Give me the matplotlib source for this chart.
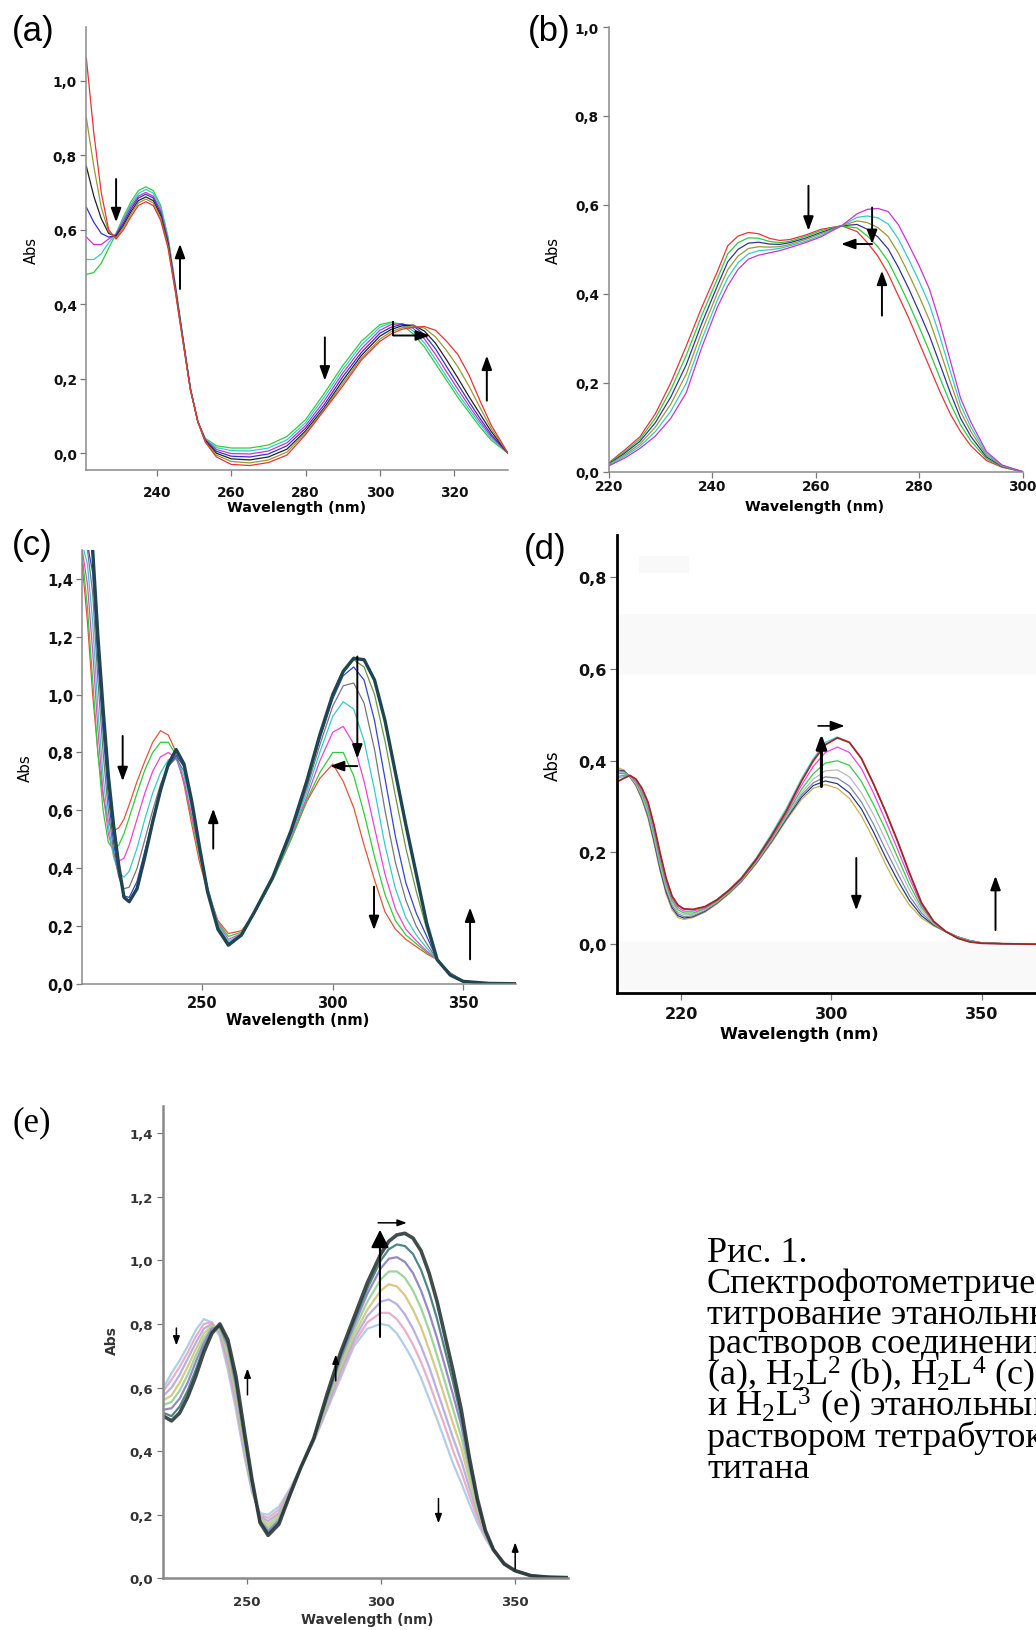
import matplotlib
matplotlib.use('Agg')
import matplotlib.pyplot as plt
from matplotlib.patches import Rectangle

plt.rcParams['font.family'] = 'DejaVu Sans'
plt.rcParams['mathtext.fontset'] = 'custom'
plt.rcParams['mathtext.rm'] = 'Liberation Serif'
plt.rcParams['mathtext.it'] = 'Liberation Serif:italic'

# ---- data (wavelength in nm, absorbance) ----
wl_a = [221, 223, 225, 227, 229, 231, 233, 235, 237, 239, 241, 243, 245, 247, 249, 251, 253, 256, 260,
        265, 270, 275, 280, 285, 290, 295, 300, 303, 306, 309, 312, 315, 318, 321, 324, 327, 330, 334.5]
abs_a = [
    [0.48, 0.485, 0.51, 0.55, 0.59, 0.635, 0.675, 0.705, 0.715, 0.705, 0.665, 0.58, 0.45, 0.31, 0.175, 0.085,
     0.04, 0.02, 0.014, 0.014, 0.022, 0.045, 0.09, 0.16, 0.235, 0.30, 0.345, 0.352, 0.345, 0.32, 0.285, 0.24,
     0.195, 0.15, 0.11, 0.07, 0.035, 0.0],
    [0.52, 0.52, 0.535, 0.565, 0.59, 0.63, 0.668, 0.697, 0.708, 0.698, 0.66, 0.575, 0.447, 0.31, 0.175, 0.085,
     0.038, 0.015, 0.007, 0.006, 0.014, 0.036, 0.082, 0.15, 0.225, 0.29, 0.338, 0.35, 0.347, 0.328, 0.296,
     0.252, 0.205, 0.16, 0.118, 0.078, 0.04, 0.0],
    [0.58, 0.56, 0.56, 0.575, 0.588, 0.625, 0.662, 0.69, 0.70, 0.69, 0.652, 0.57, 0.443, 0.307, 0.173, 0.085,
     0.037, 0.01, -0.001, -0.002, 0.006, 0.028, 0.074, 0.14, 0.215, 0.28, 0.33, 0.345, 0.348, 0.335, 0.307,
     0.265, 0.218, 0.172, 0.127, 0.085, 0.045, 0.0],
    [0.66, 0.62, 0.59, 0.58, 0.585, 0.618, 0.655, 0.685, 0.695, 0.685, 0.645, 0.565, 0.44, 0.305, 0.172, 0.085,
     0.035, 0.005, -0.008, -0.01, -0.002, 0.02, 0.067, 0.13, 0.205, 0.27, 0.322, 0.338, 0.346, 0.342, 0.318,
     0.28, 0.232, 0.185, 0.138, 0.093, 0.05, 0.0],
    [0.77, 0.69, 0.63, 0.59, 0.582, 0.612, 0.648, 0.678, 0.688, 0.678, 0.638, 0.56, 0.437, 0.303, 0.172, 0.085,
     0.033, 0.0, -0.015, -0.018, -0.01, 0.011, 0.06, 0.122, 0.195, 0.262, 0.314, 0.332, 0.342, 0.344, 0.328,
     0.295, 0.25, 0.202, 0.152, 0.105, 0.058, 0.0],
    [0.90, 0.77, 0.66, 0.595, 0.578, 0.606, 0.642, 0.672, 0.682, 0.672, 0.632, 0.555, 0.433, 0.30, 0.171, 0.085,
     0.031, -0.005, -0.022, -0.026, -0.018, 0.003, 0.055, 0.118, 0.187, 0.255, 0.306, 0.326, 0.337, 0.342,
     0.336, 0.312, 0.275, 0.232, 0.18, 0.122, 0.066, 0.0],
    [1.06, 0.86, 0.70, 0.60, 0.575, 0.60, 0.635, 0.665, 0.675, 0.665, 0.625, 0.55, 0.43, 0.30, 0.17, 0.085,
     0.03, -0.01, -0.03, -0.033, -0.025, -0.005, 0.05, 0.115, 0.18, 0.25, 0.30, 0.32, 0.333, 0.338, 0.340,
     0.33, 0.30, 0.265, 0.21, 0.14, 0.075, 0.0],
]
colors_a = ['#2ecc40', '#33cccc', '#cc33cc', '#3333cc', '#222222', '#999933', '#e8333a']

wl_b = [220, 223, 226, 229, 232, 235, 238, 241, 243, 245, 247, 249, 251, 253, 255, 258, 261, 265, 268, 270,
        272, 274, 276, 278, 280, 282, 284, 286, 288, 290, 293, 296, 300]
abs_b = [
    [0.02, 0.048, 0.078, 0.13, 0.20, 0.283, 0.37, 0.45, 0.508, 0.53, 0.538, 0.535, 0.525, 0.52, 0.522, 0.532,
     0.545, 0.553, 0.54, 0.515, 0.485, 0.445, 0.395, 0.345, 0.29, 0.235, 0.18, 0.13, 0.09, 0.058, 0.025, 0.01, 0.0],
    [0.019, 0.044, 0.073, 0.12, 0.184, 0.262, 0.352, 0.434, 0.49, 0.515, 0.526, 0.525, 0.518, 0.515, 0.518, 0.529,
     0.542, 0.553, 0.548, 0.53, 0.506, 0.473, 0.427, 0.378, 0.325, 0.27, 0.211, 0.154, 0.105, 0.069, 0.029, 0.011, 0.0],
    [0.017, 0.041, 0.068, 0.11, 0.168, 0.241, 0.334, 0.418, 0.472, 0.50, 0.514, 0.516, 0.512, 0.511, 0.515, 0.525,
     0.538, 0.553, 0.556, 0.545, 0.528, 0.501, 0.459, 0.411, 0.359, 0.305, 0.242, 0.178, 0.12, 0.079, 0.033, 0.012, 0.0],
    [0.016, 0.037, 0.062, 0.10, 0.152, 0.22, 0.316, 0.402, 0.454, 0.485, 0.502, 0.506, 0.505, 0.506, 0.511, 0.522,
     0.535, 0.553, 0.564, 0.56, 0.549, 0.529, 0.491, 0.444, 0.394, 0.34, 0.273, 0.202, 0.135, 0.09, 0.037, 0.013, 0.0],
    [0.014, 0.034, 0.057, 0.09, 0.136, 0.199, 0.298, 0.386, 0.436, 0.47, 0.49, 0.497, 0.499, 0.502, 0.508, 0.518,
     0.531, 0.553, 0.572, 0.575, 0.571, 0.557, 0.523, 0.477, 0.428, 0.375, 0.304, 0.226, 0.15, 0.10, 0.041, 0.014, 0.0],
    [0.013, 0.03, 0.052, 0.08, 0.12, 0.178, 0.28, 0.37, 0.418, 0.455, 0.478, 0.487, 0.492, 0.497, 0.504, 0.515,
     0.528, 0.553, 0.58, 0.59, 0.592, 0.585, 0.555, 0.51, 0.463, 0.41, 0.335, 0.25, 0.165, 0.111, 0.045, 0.015, 0.0],
]
colors_b = ['#e8333a', '#2ecc40', '#333399', '#999933', '#33cccc', '#cc33cc']

wl_c = [204, 206, 208, 210, 212, 214, 216, 218, 220, 222, 225, 228, 231, 234, 237, 240, 243, 246, 249, 252,
        256, 260, 265, 270, 277, 284, 290, 295, 300, 304, 308, 312, 316, 320, 324, 328, 332, 336, 340, 345,
        350, 360, 370]
abs_c = [
    [1.45, 1.25, 1.00, 0.80, 0.65, 0.56, 0.53, 0.54, 0.57, 0.62, 0.70, 0.77, 0.835, 0.875, 0.86, 0.80, 0.69, 0.55,
     0.42, 0.32, 0.22, 0.175, 0.185, 0.245, 0.36, 0.50, 0.63, 0.71, 0.76, 0.70, 0.61, 0.48, 0.36, 0.25, 0.19,
     0.155, 0.13, 0.105, 0.085, 0.04, 0.012, 0.003, 0.002],
    [1.48, 1.30, 1.05, 0.80, 0.60, 0.49, 0.465, 0.48, 0.52, 0.575, 0.66, 0.74, 0.80, 0.835, 0.835, 0.79, 0.70, 0.57,
     0.44, 0.33, 0.215, 0.165, 0.18, 0.245, 0.36, 0.50, 0.635, 0.73, 0.80, 0.80, 0.72, 0.59, 0.44, 0.31, 0.22,
     0.17, 0.14, 0.11, 0.085, 0.038, 0.011, 0.003, 0.002],
    [1.50, 1.38, 1.15, 0.88, 0.66, 0.52, 0.45, 0.425, 0.435, 0.48, 0.57, 0.66, 0.735, 0.785, 0.80, 0.78, 0.70, 0.58,
     0.45, 0.335, 0.21, 0.155, 0.175, 0.245, 0.365, 0.51, 0.645, 0.77, 0.87, 0.89, 0.83, 0.70, 0.54, 0.38, 0.26,
     0.19, 0.15, 0.115, 0.085, 0.037, 0.011, 0.003, 0.002],
    [1.52, 1.45, 1.25, 0.95, 0.72, 0.55, 0.44, 0.385, 0.37, 0.39, 0.47, 0.57, 0.66, 0.73, 0.775, 0.78, 0.72, 0.60,
     0.46, 0.335, 0.205, 0.148, 0.172, 0.247, 0.365, 0.515, 0.66, 0.80, 0.925, 0.975, 0.95, 0.84, 0.67, 0.48,
     0.33, 0.23, 0.17, 0.125, 0.085, 0.036, 0.011, 0.003, 0.002],
    [1.55, 1.50, 1.35, 1.05, 0.80, 0.60, 0.46, 0.37, 0.33, 0.335, 0.40, 0.50, 0.60, 0.69, 0.755, 0.78, 0.735, 0.615,
     0.465, 0.33, 0.198, 0.142, 0.17, 0.248, 0.367, 0.52, 0.675, 0.825, 0.96, 1.03, 1.04, 0.97, 0.81, 0.60, 0.42,
     0.29, 0.20, 0.14, 0.085, 0.034, 0.01, 0.003, 0.002],
    [1.55, 1.52, 1.42, 1.12, 0.87, 0.65, 0.49, 0.38, 0.305, 0.30, 0.355, 0.46, 0.57, 0.67, 0.75, 0.79, 0.75, 0.625,
     0.47, 0.325, 0.194, 0.138, 0.17, 0.25, 0.368, 0.525, 0.69, 0.845, 0.985, 1.065, 1.095, 1.05, 0.91, 0.71,
     0.51, 0.35, 0.245, 0.165, 0.085, 0.033, 0.01, 0.003, 0.002],
    [1.55, 1.55, 1.48, 1.17, 0.92, 0.69, 0.52, 0.395, 0.30, 0.288, 0.335, 0.445, 0.56, 0.665, 0.755, 0.80, 0.757,
     0.63, 0.47, 0.322, 0.192, 0.136, 0.17, 0.25, 0.37, 0.53, 0.70, 0.855, 0.995, 1.075, 1.12, 1.095, 1.00, 0.84,
     0.65, 0.47, 0.32, 0.19, 0.085, 0.032, 0.01, 0.003, 0.002],
    [1.55, 1.55, 1.50, 1.20, 0.95, 0.72, 0.55, 0.41, 0.30, 0.285, 0.33, 0.44, 0.56, 0.67, 0.76, 0.81, 0.76, 0.63,
     0.47, 0.32, 0.19, 0.135, 0.17, 0.25, 0.37, 0.53, 0.70, 0.86, 1.00, 1.08, 1.125, 1.12, 1.05, 0.91, 0.73,
     0.55, 0.38, 0.21, 0.085, 0.032, 0.01, 0.003, 0.002],
]
colors_c = ['#e0553a', '#2ecc40', '#ee44cc', '#33cccc', '#777777', '#3344cc', '#669944', '#1f4650']

wl_d = [229, 231, 233, 235, 237, 239, 241, 243, 245, 247, 249, 251, 254, 258, 262, 266, 270, 275, 280, 285,
        290, 294, 298, 302, 306, 310, 314, 318, 322, 326, 330, 334, 338, 342, 346, 350, 358, 368]
abs_d = [
    [0.385, 0.38, 0.365, 0.345, 0.315, 0.275, 0.22, 0.16, 0.11, 0.075, 0.058, 0.054, 0.058, 0.07, 0.088, 0.11,
     0.135, 0.175, 0.22, 0.27, 0.315, 0.34, 0.348, 0.34, 0.318, 0.28, 0.23, 0.175, 0.125, 0.085, 0.057, 0.04,
     0.027, 0.016, 0.008, 0.003, 0.001, 0.0],
    [0.38, 0.378, 0.365, 0.347, 0.318, 0.28, 0.225, 0.165, 0.115, 0.08, 0.062, 0.057, 0.06, 0.072, 0.09, 0.112,
     0.137, 0.177, 0.223, 0.273, 0.32, 0.346, 0.356, 0.35, 0.33, 0.295, 0.245, 0.19, 0.14, 0.095, 0.062, 0.042,
     0.028, 0.016, 0.008, 0.003, 0.001, 0.0],
    [0.378, 0.376, 0.365, 0.348, 0.32, 0.283, 0.23, 0.17, 0.12, 0.085, 0.066, 0.06, 0.062, 0.074, 0.091, 0.113,
     0.138, 0.178, 0.225, 0.276, 0.325, 0.352, 0.365, 0.362, 0.345, 0.31, 0.262, 0.207, 0.155, 0.105, 0.068,
     0.044, 0.028, 0.016, 0.008, 0.003, 0.001, 0.0],
    [0.375, 0.374, 0.366, 0.35, 0.324, 0.288, 0.236, 0.177, 0.126, 0.09, 0.07, 0.064, 0.065, 0.076, 0.093, 0.114,
     0.139, 0.18, 0.227, 0.279, 0.33, 0.36, 0.378, 0.38, 0.365, 0.33, 0.283, 0.228, 0.172, 0.118, 0.074, 0.046,
     0.028, 0.015, 0.007, 0.003, 0.001, 0.0],
    [0.372, 0.372, 0.367, 0.353, 0.328, 0.294, 0.243, 0.184, 0.132, 0.095, 0.075, 0.068, 0.068, 0.078, 0.094,
     0.115, 0.14, 0.181, 0.229, 0.282, 0.337, 0.372, 0.395, 0.40, 0.39, 0.355, 0.305, 0.25, 0.19, 0.13, 0.08,
     0.048, 0.028, 0.015, 0.007, 0.003, 0.001, 0.0],
    [0.366, 0.368, 0.368, 0.356, 0.334, 0.302, 0.252, 0.192, 0.138, 0.10, 0.08, 0.072, 0.072, 0.08, 0.096, 0.117,
     0.142, 0.183, 0.232, 0.286, 0.346, 0.388, 0.418, 0.43, 0.418, 0.383, 0.33, 0.27, 0.207, 0.143, 0.085, 0.049,
     0.028, 0.014, 0.006, 0.002, 0.001, 0.0],
    [0.362, 0.366, 0.368, 0.359, 0.338, 0.307, 0.258, 0.198, 0.143, 0.104, 0.084, 0.076, 0.075, 0.082, 0.098,
     0.119, 0.145, 0.188, 0.24, 0.296, 0.36, 0.405, 0.44, 0.452, 0.44, 0.405, 0.35, 0.29, 0.225, 0.155, 0.09,
     0.05, 0.028, 0.013, 0.005, 0.002, 0.001, 0.0],
    [0.355, 0.362, 0.368, 0.36, 0.34, 0.31, 0.26, 0.20, 0.145, 0.105, 0.085, 0.077, 0.076, 0.082, 0.097, 0.118,
     0.143, 0.185, 0.235, 0.29, 0.355, 0.40, 0.435, 0.45, 0.44, 0.405, 0.35, 0.29, 0.225, 0.155, 0.09, 0.05,
     0.028, 0.013, 0.005, 0.002, 0.001, 0.0],
]
colors_d = ['#c8b050', '#2a3a88', '#7a8aaa', '#bbbbbb', '#33cc44', '#ee44ee', '#33dddd', '#aa2222']

wl_e = [219, 222, 225, 228, 231, 234, 237, 240, 243, 246, 249, 252, 255, 258, 262, 266, 270, 275, 280, 285,
        290, 295, 300, 303, 306, 309, 312, 315, 318, 321, 324, 327, 330, 333, 336, 339, 342, 346, 350, 356,
        362, 370]
abs_e = [
    [0.60, 0.645, 0.685, 0.73, 0.78, 0.815, 0.805, 0.76, 0.655, 0.53, 0.39, 0.27, 0.205, 0.2, 0.225, 0.28, 0.345,
     0.43, 0.53, 0.63, 0.73, 0.785, 0.80, 0.795, 0.77, 0.73, 0.685, 0.63, 0.565, 0.50, 0.43, 0.36, 0.30, 0.235,
     0.175, 0.125, 0.085, 0.05, 0.025, 0.01, 0.004, 0.002],
    [0.59, 0.625, 0.665, 0.71, 0.76, 0.80, 0.805, 0.77, 0.67, 0.545, 0.40, 0.275, 0.2, 0.19, 0.215, 0.275, 0.345,
     0.432, 0.535, 0.64, 0.74, 0.805, 0.835, 0.835, 0.815, 0.78, 0.735, 0.68, 0.615, 0.545, 0.475, 0.40, 0.335,
     0.26, 0.19, 0.13, 0.087, 0.05, 0.025, 0.01, 0.004, 0.002],
    [0.575, 0.60, 0.64, 0.69, 0.74, 0.785, 0.80, 0.775, 0.685, 0.56, 0.41, 0.28, 0.195, 0.18, 0.205, 0.27, 0.345,
     0.434, 0.542, 0.652, 0.752, 0.825, 0.87, 0.877, 0.862, 0.83, 0.785, 0.73, 0.665, 0.59, 0.515, 0.44, 0.37,
     0.285, 0.205, 0.137, 0.088, 0.049, 0.025, 0.01, 0.004, 0.002],
    [0.56, 0.575, 0.615, 0.665, 0.72, 0.77, 0.795, 0.78, 0.70, 0.575, 0.42, 0.285, 0.19, 0.17, 0.198, 0.267, 0.345,
     0.435, 0.55, 0.665, 0.765, 0.845, 0.905, 0.925, 0.918, 0.89, 0.845, 0.79, 0.72, 0.645, 0.565, 0.485, 0.41,
     0.31, 0.215, 0.14, 0.089, 0.048, 0.025, 0.009, 0.004, 0.002],
    [0.545, 0.555, 0.59, 0.64, 0.70, 0.755, 0.79, 0.785, 0.715, 0.59, 0.43, 0.29, 0.185, 0.16, 0.19, 0.264, 0.345,
     0.437, 0.557, 0.677, 0.78, 0.87, 0.94, 0.965, 0.965, 0.945, 0.905, 0.85, 0.78, 0.70, 0.615, 0.53, 0.445,
     0.335, 0.228, 0.143, 0.089, 0.047, 0.025, 0.009, 0.004, 0.002],
    [0.53, 0.535, 0.565, 0.615, 0.68, 0.74, 0.785, 0.79, 0.73, 0.605, 0.445, 0.298, 0.18, 0.15, 0.182, 0.262, 0.345,
     0.438, 0.565, 0.69, 0.795, 0.895, 0.975, 1.005, 1.01, 0.995, 0.96, 0.905, 0.835, 0.755, 0.665, 0.575, 0.48,
     0.355, 0.238, 0.146, 0.09, 0.046, 0.024, 0.008, 0.004, 0.002],
    [0.52, 0.51, 0.54, 0.59, 0.655, 0.725, 0.775, 0.795, 0.74, 0.62, 0.458, 0.305, 0.178, 0.142, 0.176, 0.261, 0.345,
     0.439, 0.572, 0.70, 0.808, 0.912, 1.0, 1.035, 1.05, 1.045, 1.02, 0.97, 0.90, 0.815, 0.715, 0.615, 0.505,
     0.37, 0.245, 0.148, 0.09, 0.045, 0.024, 0.008, 0.004, 0.002],
    [0.51, 0.495, 0.52, 0.57, 0.635, 0.71, 0.77, 0.80, 0.75, 0.635, 0.47, 0.31, 0.175, 0.135, 0.17, 0.26, 0.345,
     0.44, 0.58, 0.71, 0.82, 0.93, 1.02, 1.06, 1.08, 1.085, 1.07, 1.03, 0.96, 0.87, 0.76, 0.65, 0.53, 0.38, 0.25,
     0.15, 0.09, 0.045, 0.024, 0.008, 0.004, 0.002],
]
colors_e = ['#a9c8e6', '#e4a8c4', '#b0a8e0', '#d4c47c', '#94d094', '#8c7cc0', '#3c7a78', '#2c3838']

caption = ['Рис. 1.',
           'Спектрофотометрическое',
           'титрование этанольных',
           'растворов соединений H$_2$L$^1$',
           '(a), H$_2$L$^2$ (b), H$_2$L$^4$ (c), H$_2$L$^5$ (d)',
           'и H$_2$L$^3$ (e) этанольным',
           'раствором тетрабутоксида',
           'титана']

W, H = 1036, 1631
fig = plt.figure(figsize=(W / 100, H / 100), dpi=100)


def axes_px(left, right, top, bottom):
    return fig.add_axes([left / W, 1 - bottom / H, (right - left) / W, (bottom - top) / H])


def ftext(x, y, s, **kw):
    fig.text(x / W, 1 - y / H, s, **kw)


def comma(v):
    return f'{v:.1f}'.replace('.', ',')


def dress(ax, xticks, xlabels, yticks, fs, spine_col, spine_lw, tlen, xpad, ypad, lab_col='#111111'):
    for s in ('top', 'right'):
        ax.spines[s].set_visible(False)
    for s in ('left', 'bottom'):
        ax.spines[s].set_color(spine_col)
        ax.spines[s].set_linewidth(spine_lw)
    ax.set_xticks(xticks)
    ax.set_xticklabels(xlabels, fontsize=fs, fontweight='bold', color=lab_col)
    ax.set_yticks(yticks)
    ax.set_yticklabels([comma(v) for v in yticks], fontsize=fs, fontweight='bold', color=lab_col)
    ax.tick_params(axis='x', length=tlen, width=0.9, color='#777777', pad=xpad)
    ax.tick_params(axis='y', length=tlen, width=0.9, color='#777777', pad=ypad)


def arrow(ax, x0, y0, x1, y1, lw=1.4, ms=14, hw=0.22, hl=0.6):
    ax.annotate('', xy=(x1, y1), xytext=(x0, y0),
                arrowprops=dict(arrowstyle=f'-|>,head_length={hl},head_width={hw}', color='black',
                                lw=lw, mutation_scale=ms, shrinkA=0, shrinkB=0))


# ---------------- (a) ----------------
ax = axes_px(86, 508, 28, 471)
for y, c in zip(abs_a, colors_a):
    ax.plot(wl_a, y, color=c, lw=0.9)
ax.set_xlim(220.9, 334.5)
ax.set_ylim(-0.045, 1.144)
dress(ax, [240, 260, 280, 300, 320], ['240', '260', '280', '300', '320'], [0, 0.2, 0.4, 0.6, 0.8, 1.0],
      9.8, '#8a8a8a', 1.1, 4, 7, 2.5)
arrow(ax, 229, 0.736, 229, 0.62)
arrow(ax, 246.2, 0.441, 246.2, 0.562)
arrow(ax, 285.2, 0.311, 285.2, 0.195)
ax.plot([303.6, 303.6], [0.353, 0.316], color='black', lw=1.4)
arrow(ax, 303.6, 0.316, 313.5, 0.316)
arrow(ax, 328.8, 0.141, 328.8, 0.262)
ftext(297, 508, 'Wavelength (nm)', fontsize=10.3, fontweight='bold', ha='center', va='center')
ftext(31, 250, 'Abs', fontsize=10.5, rotation=90, ha='center', va='center')
ftext(12, 31, '(a)', fontsize=25, family='Liberation Sans', va='center')

# ---------------- (b) ----------------
ax = axes_px(608.7, 1022.7, 28, 472.7)
for y, c in zip(abs_b, colors_b):
    ax.plot(wl_b, y, color=c, lw=0.9)
ax.set_xlim(220, 300)
ax.set_ylim(0, 1.0)
dress(ax, [220, 240, 260, 280, 300], ['220', '240', '260', '280', '300'], [0, 0.2, 0.4, 0.6, 0.8, 1.0],
      9.8, '#8a8a8a', 1.1, 4, 1.5, 3)
arrow(ax, 258.6, 0.643, 258.6, 0.542)
arrow(ax, 270.9, 0.594, 270.9, 0.512)
arrow(ax, 270.9, 0.512, 264.9, 0.512)
arrow(ax, 272.8, 0.351, 272.8, 0.452)
ftext(815, 507, 'Wavelength (nm)', fontsize=10.3, fontweight='bold', ha='center', va='center')
ftext(553, 250, 'Abs', fontsize=10.5, rotation=90, ha='center', va='center')
ftext(528, 31, '(b)', fontsize=25, family='Liberation Sans', va='center')

# ---------------- (c) ----------------
ax = axes_px(81.7, 516, 551.2, 985.3)
for i, (y, c) in enumerate(zip(abs_c, colors_c)):
    ax.plot(wl_c, y, color=c, lw=2.4 if i == len(abs_c) - 1 else 0.9)
ax.set_xlim(203.8, 370.2)
ax.set_ylim(0, 1.498)
dress(ax, [250, 300, 350], ['250', '300', '350'], [0, 0.2, 0.4, 0.6, 0.8, 1.0, 1.2, 1.4],
      10.5, '#8a8a8a', 1.1, 4, 3.5, 2)
arrow(ax, 219.5, 0.857, 219.5, 0.701)
arrow(ax, 254.2, 0.468, 254.2, 0.606)
arrow(ax, 309.4, 1.131, 309.4, 0.779)
arrow(ax, 309.4, 0.753, 298.9, 0.753)
arrow(ax, 315.8, 0.337, 315.8, 0.187)
arrow(ax, 352.6, 0.086, 352.6, 0.265)
ftext(298, 1021, 'Wavelength (nm)', fontsize=10.6, fontweight='bold', ha='center', va='center')
ftext(25, 768, 'Abs', fontsize=10.8, rotation=90, ha='center', va='center')
ftext(12, 546, '(c)', fontsize=25, family='Liberation Sans', va='center')

# ---------------- (d) ----------------
for (x0, y0, x1, y1) in [(619, 615, 1036, 676), (619, 942, 1036, 991), (639, 557, 689, 574)]:
    fig.add_artist(Rectangle((x0 / W, 1 - y1 / H), (x1 - x0) / W, (y1 - y0) / H, transform=fig.transFigure,
                             fc='#f9f9f9', ec='none', zorder=-1))
ax = axes_px(616.7, 1040, 535.9, 993.6)
ax.set_facecolor('none')
for i, (y, c) in enumerate(zip(abs_d, colors_d)):
    ax.plot(wl_d, y, color=c, lw=1.3 if i == len(abs_d) - 1 else 0.9)
ax.set_xlim(228.6, 369.4)
ax.set_ylim(-0.1055, 0.8925)
dress(ax, [250, 300, 350], ['220', '300', '350'], [0, 0.2, 0.4, 0.6, 0.8],
      11.5, 'black', 2.0, 5, 5, 2.5)
arrow(ax, 295.6, 0.476, 304.4, 0.476, lw=1.2)
arrow(ax, 296.7, 0.344, 296.7, 0.458, lw=2.2, ms=14)
arrow(ax, 308.3, 0.188, 308.3, 0.074)
arrow(ax, 354.6, 0.031, 354.6, 0.149)
ftext(799, 1035, 'Wavelength (nm)', fontsize=11.7, fontweight='bold', ha='center', va='center')
ftext(553, 766, 'Abs', fontsize=12, rotation=90, ha='center', va='center')
ftext(524, 550, '(d)', fontsize=25, family='Liberation Sans', va='center')

# ---------------- (e) ----------------
ax = axes_px(162.7, 568.3, 1106.5, 1579.3)
for i, (y, c) in enumerate(zip(abs_e, colors_e)):
    ax.plot(wl_e, y, color=c, lw=2.6 if i == len(abs_e) - 1 else 1.6, alpha=0.9)
ax.set_xlim(218.7, 369.9)
ax.set_ylim(0, 1.487)
dress(ax, [250, 300, 350], ['250', '300', '350'], [0, 0.2, 0.4, 0.6, 0.8, 1.0, 1.2, 1.4],
      9.5, '#8a8a8a', 1.8, 4, 8, 3, lab_col='#333333')
arrow(ax, 223.8, 0.787, 223.8, 0.732, lw=1.1, ms=9)
arrow(ax, 250.3, 0.577, 250.3, 0.660, lw=1.1, ms=9)
arrow(ax, 283.2, 0.621, 283.2, 0.704, lw=1.1, ms=9)
arrow(ax, 299.7, 0.759, 299.7, 1.096, lw=1.5, ms=18, hw=0.3)
arrow(ax, 299.0, 1.118, 309.7, 1.118, lw=1.1, ms=9)
arrow(ax, 321.5, 0.251, 321.5, 0.173, lw=1.1, ms=9)
arrow(ax, 350.1, 0.030, 350.1, 0.113, lw=1.1, ms=9)
ftext(367.5, 1620, 'Wavelength (nm)', fontsize=9.8, fontweight='bold', ha='center', va='center', color='#333333')
ftext(112, 1341, 'Abs', fontsize=10, fontweight='bold', rotation=90, ha='center', va='center', color='#333333')
ftext(12, 1123, '(e)', fontsize=25, family='Liberation Serif', va='center')

# ---------------- caption ----------------
for i, line in enumerate(caption):
    ftext(707, 1262 + 30.8 * i, line, fontsize=26, family='Liberation Serif', va='baseline', ha='left')

fig.savefig('out.png', dpi=100)
